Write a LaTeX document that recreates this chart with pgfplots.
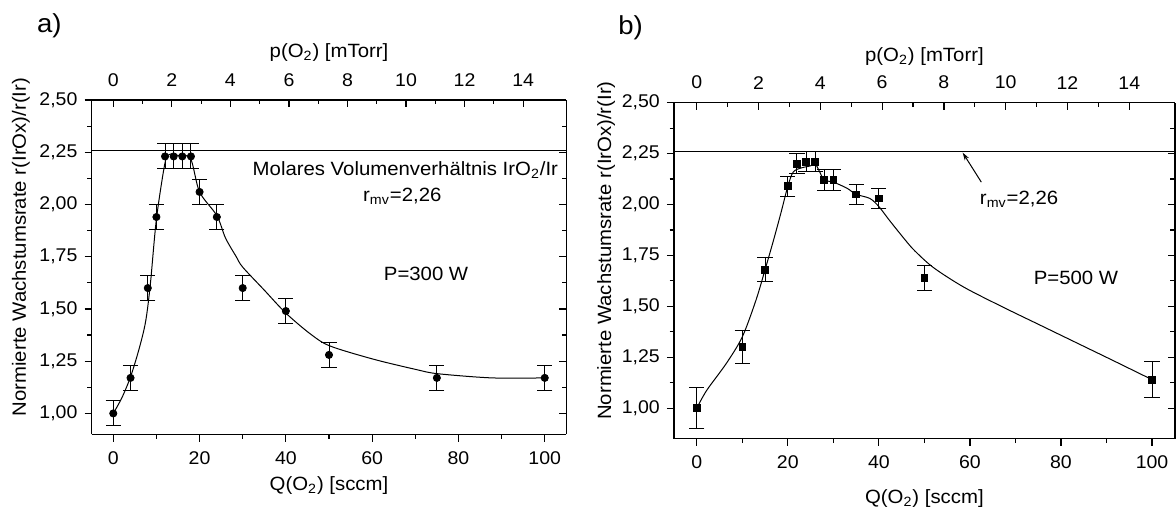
\documentclass[border=0pt]{standalone}
\usepackage{pgfplots}
\pgfplotsset{compat=1.18}
\usepackage{pgfplotstable}
\usepackage{fontspec}
\setmainfont{Liberation Sans}[FakeStretch=1.06]
\usetikzlibrary{arrows.meta}

\pgfplotstableread{
Q y e
0 1.00 0.06
4 1.17 0.06
8 1.60 0.06
10 1.94 0.06
12 2.23 0.06
14 2.23 0.06
16 2.23 0.06
18 2.23 0.06
20 2.06 0.06
24 1.94 0.06
30 1.60 0.06
40 1.49 0.06
50 1.28 0.06
75 1.17 0.06
100 1.17 0.06
}\dataA

\pgfplotstableread{
Q y e
0 1.00 0.10
10 1.30 0.08
15 1.68 0.06
20 2.09 0.05
22 2.20 0.05
24 2.21 0.05
26 2.21 0.05
28 2.12 0.05
30 2.12 0.05
35 2.05 0.05
40 2.03 0.05
50 1.64 0.06
100 1.14 0.09
}\dataB

\newcommand\lbl{\fontsize{9.6}{11.5}\selectfont}
\pgfplotsset{
  base/.style={
    scale only axis,
    anchor=south west,
    ticklabel style={font=\fontsize{9.2}{11}\selectfont},
    label style={font=\lbl},
    /pgf/number format/assume math mode=true,
    axis line style={line width=0.7pt,-},
    major tick length=3.6pt, minor tick length=2.2pt,
    tick style={black, line width=0.6pt},
    xmin=-5, xmax=105,
    ytick={1,1.25,1.5,1.75,2,2.25,2.5}, minor y tick num=1,
  },
  bottomleft/.style={
    axis x line*=bottom, axis y line*=left, tick align=outside,
    xtick={0,20,40,60,80,100}, minor x tick num=1,
    xticklabel style={yshift=-1.5pt},
    yticklabel style={/pgf/number format/.cd, fixed, fixed zerofill, precision=2, use comma},
    xlabel={Q(O\textsubscript{2}) [sccm]},
    ylabel={Normierte Wachstumsrate r(IrOx)/r(Ir)},
  },
  topright/.style={
    axis x line*=top, axis y line*=right, tick align=inside,
    xmin=-0.737, xmax=15.475,
    xtick={0,2,4,6,8,10,12,14}, minor x tick num=1,
    xticklabel style={yshift=3.3pt},
    yticklabels={},
    xlabel={p(O\textsubscript{2}) [mTorr]},
  },
  ebars/.style={
    error bars/.cd, y dir=both, y explicit,
    error bar style={line width=0.5pt, black},
    error mark options={rotate=90, mark size=3.8pt, line width=0.5pt, black},
  },
}

\begin{document}
\begin{tikzpicture}
\useasboundingbox (0,0) rectangle (588pt,254.5pt);

% ---------- a) ----------
\begin{axis}[base, bottomleft, at={(45.85pt,37.35pt)}, width=237.3pt, height=167.15pt,
  ymin=0.9, ymax=2.5,
  xlabel style={at={(axis description cs:0.5,-0.152)}, anchor=center},
  ylabel style={at={(axis description cs:-0.149,0.56)}, anchor=center}]
\addplot[black, line width=0.6pt] coordinates {(-5,2.26) (105,2.26)};
\addplot[black, line width=0.5pt, smooth, no marks] coordinates {
(0,1.00) (2,1.075) (4,1.175) (6,1.31) (7.5,1.44) (8.6,1.62) (10,1.93) (12,2.20)
(13.1,2.24) (15,2.235) (17.9,2.22) (20,2.06) (24,1.947) (26,1.84) (28.5,1.75)
(30,1.70) (35,1.59) (40,1.48) (45.7,1.38) (50.2,1.323) (60.2,1.26) (70.2,1.21)
(75.2,1.19) (87.7,1.17) (100,1.17)};
\addplot[black, only marks, mark=*, mark size=1.8pt, ebars] table[x=Q, y=y, y error=e] {\dataA};
\node[font=\lbl] at (axis cs:67.7,2.167) {Molares Volumenverhältnis IrO\textsubscript{2}/Ir};
\node[font=\lbl] at (axis cs:67.0,2.04) {r\textsubscript{mv}=2,26};
\node[font=\lbl] at (axis cs:72.5,1.666) {P=300 W};
\end{axis}
\begin{axis}[base, topright, at={(45.85pt,37.35pt)}, width=237.3pt, height=167.15pt,
  ymin=0.9, ymax=2.5,
  xlabel style={at={(axis description cs:0.5,1.141)}, anchor=center}]
\end{axis}

% ---------- b) ----------
\begin{axis}[base, bottomleft, at={(337pt,35.15pt)}, width=250.4pt, height=168pt,
  ymin=0.85, ymax=2.5,
  xlabel style={at={(axis description cs:0.5,-0.177)}, anchor=center},
  ylabel style={at={(axis description cs:-0.1355,0.56)}, anchor=center}]
\addplot[black, line width=0.6pt] coordinates {(-5,2.26) (105,2.26)};
\addplot[black, line width=0.5pt, smooth, no marks] coordinates {
(0,1.00) (2.2,1.088) (6.5,1.22) (10,1.35) (13,1.53) (15,1.68) (16.8,1.82)
(18.5,1.96) (20,2.09) (21.2,2.16) (23,2.18) (25,2.19) (26,2.20) (27,2.16) (28,2.12)
(30,2.11) (33,2.08) (35,2.05) (38,2.03) (40,1.99) (42.4,1.92) (46,1.82) (48,1.77)
(52,1.69) (58.6,1.595) (66.9,1.50) (75.2,1.41) (83.5,1.32) (91.8,1.23) (100,1.14)};
\addplot[black, only marks, mark=square*, mark size=1.7pt, ebars] table[x=Q, y=y, y error=e] {\dataB};
\draw[-{Stealth[length=4pt,width=2.4pt]}, line width=0.5pt] (axis cs:62.5,2.11) -- (axis cs:58.4,2.255);
\node[font=\lbl] at (axis cs:70.8,2.025) {r\textsubscript{mv}=2,26};
\node[font=\lbl] at (axis cs:83.3,1.64) {P=500 W};
\end{axis}
\begin{axis}[base, topright, at={(337pt,35.15pt)}, width=250.4pt, height=168pt,
  ymin=0.85, ymax=2.5,
  xlabel style={at={(axis description cs:0.5,1.136)}, anchor=center}]
\end{axis}

\node[anchor=west, inner sep=0pt, font=\fontsize{13}{15}\selectfont] at (18.35pt,241.5pt) {a)};
\node[anchor=west, inner sep=0pt, font=\fontsize{13}{15}\selectfont] at (309pt,240.5pt) {b)};
\end{tikzpicture}
\end{document}
